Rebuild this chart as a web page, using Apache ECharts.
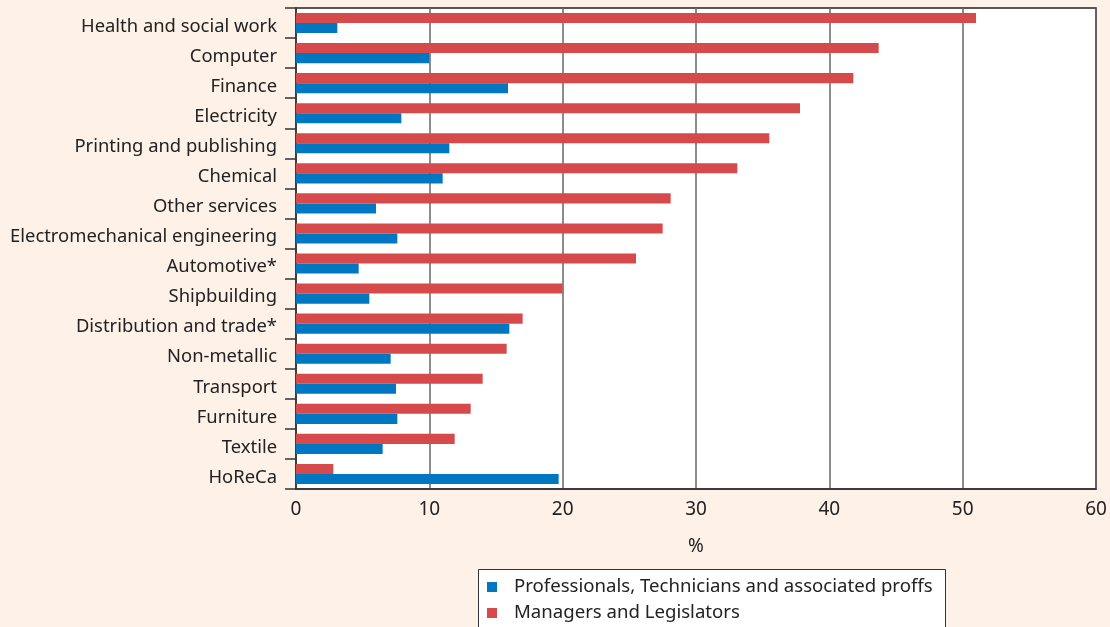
<!DOCTYPE html>
<html>
<head>
<meta charset="utf-8">
<script src="https://cdn.jsdelivr.net/npm/echarts@6/dist/echarts.min.js"></script>
<style>
  html, body { margin: 0; padding: 0; background: #fdf1e8; }
  #chart { width: 1110px; height: 627px; }
</style>
</head>
<body>
<div id="chart"></div>
<script>
var sectors = ['Health and social work', 'Computer', 'Finance', 'Electricity', 'Printing and publishing',
    'Chemical', 'Other services', 'Electromechanical engineering', 'Automotive*', 'Shipbuilding',
    'Distribution and trade*', 'Non-metallic', 'Transport', 'Furniture', 'Textile', 'HoReCa'];
var professionals = [3.1, 10.0, 15.9, 7.9, 11.5, 11.0, 6.0, 7.6, 4.7, 5.5, 16.0, 7.1, 7.5, 7.6, 6.5, 19.7];
var managers = [51.0, 43.7, 41.8, 37.8, 35.5, 33.1, 28.1, 27.5, 25.5, 20.0, 17.0, 15.8, 14.0, 13.1, 11.9, 2.8];
var xTicks = [0, 10, 20, 30, 40, 50, 60];

(function () {
    var font = '"Noto Sans", sans-serif';
    var chart = echarts.init(document.getElementById('chart'));

    var option = {
        backgroundColor: '#fdf1e8',
        animation: false,
        textStyle: { fontFamily: font },
        grid: {
            left: 296, right: 14, top: 8, bottom: 138,
            show: true,
            backgroundColor: '#ffffff',
            borderColor: '#222',
            borderWidth: 1.5
        },
        graphic: [{
            type: 'rect',
            left: 478, top: 569,
            shape: { width: 467, height: 70 },
            style: { fill: '#ffffff', stroke: '#333', lineWidth: 1 },
            z: 1
        }],
        legend: {
            orient: 'vertical',
            left: 487, top: 576,
            padding: 0,
            data: ['Professionals, Technicians and associated proffs', 'Managers and Legislators'],
            icon: 'rect',
            itemWidth: 10, itemHeight: 10,
            itemGap: 4,
            z: 5,
            textStyle: { fontSize: 18.6, lineHeight: 22, color: '#222', fontFamily: font, padding: [0, 0, 0, 12] }
        },
        xAxis: {
            type: 'value',
            min: xTicks[0], max: xTicks[xTicks.length - 1], interval: 10,
            name: '%',
            nameLocation: 'middle',
            nameGap: 48,
            nameTextStyle: { fontSize: 19, color: '#222' },
            axisLine: { show: true, lineStyle: { color: '#333', width: 1.5 } },
            axisTick: { show: false },
            axisLabel: { fontSize: 19, color: '#222', margin: 11 },
            splitLine: { show: true, lineStyle: { color: '#666', width: 1.5 } }
        },
        yAxis: {
            type: 'category',
            inverse: true,
            data: sectors,
            axisLine: { show: true, lineStyle: { color: '#333', width: 1.5 } },
            axisTick: { show: true, length: 11, lineStyle: { color: '#333', width: 1.5 } },
            axisLabel: { fontSize: 18.4, color: '#222', margin: 19, verticalAlign: 'top', lineHeight: 7 }
        },
        series: [
            {
                name: 'Managers and Legislators',
                type: 'bar',
                data: managers,
                itemStyle: { color: '#d64a4b' },
                barGap: '0%',
                barCategoryGap: '33%'
            },
            {
                name: 'Professionals, Technicians and associated proffs',
                type: 'bar',
                data: professionals,
                itemStyle: { color: '#0077c0' },
                barGap: '0%',
                barCategoryGap: '33%'
            }
        ]
    };

    chart.setOption(option);
})();
</script>
</body>
</html>
